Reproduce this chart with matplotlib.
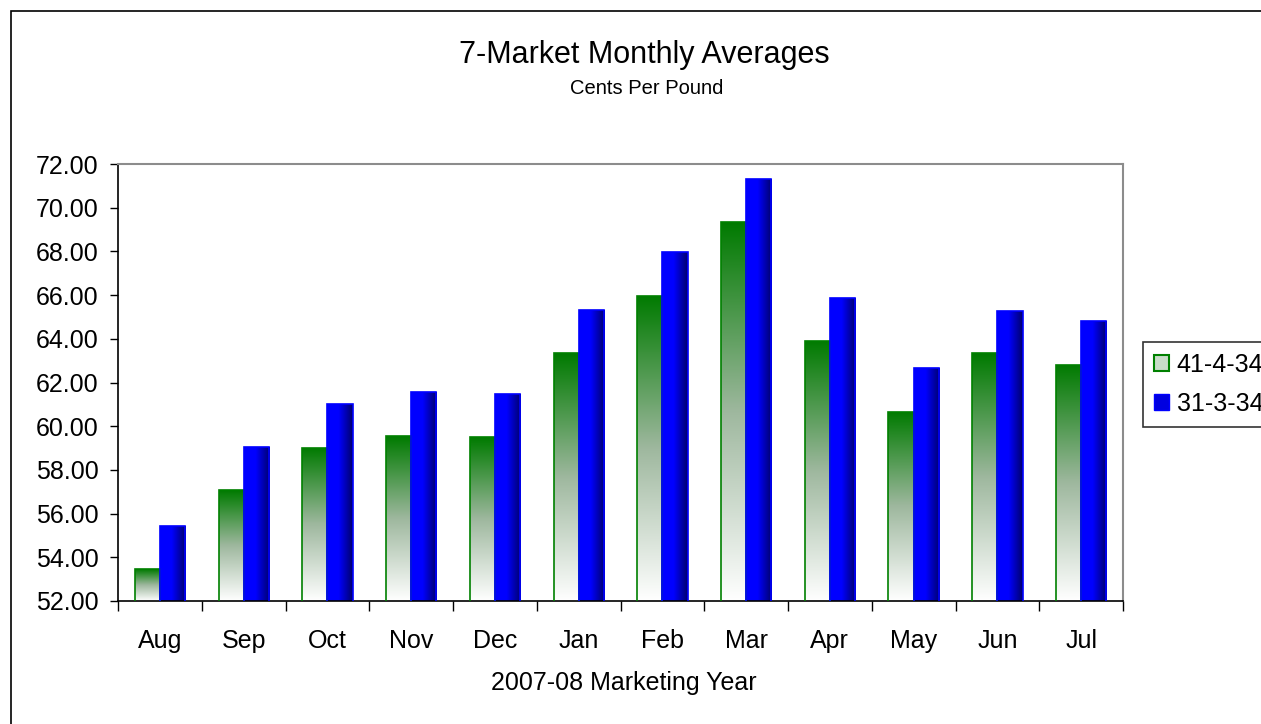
import matplotlib
matplotlib.use("Agg")
import matplotlib.pyplot as plt
import matplotlib.patches as mpatches
import numpy as np

plt.rcParams['font.family'] = ['Liberation Sans', 'DejaVu Sans']

# data
months = ['Aug', 'Sep', 'Oct', 'Nov', 'Dec', 'Jan', 'Feb', 'Mar', 'Apr', 'May', 'Jun', 'Jul']
grade_41 = [53.45, 57.08, 59.02, 59.55, 59.50, 63.35, 65.97, 69.33, 63.90, 60.65, 63.35, 62.82]
grade_31 = [55.43, 59.03, 61.02, 61.55, 61.47, 65.33, 67.95, 71.30, 65.87, 62.65, 65.25, 64.80]
series_names = ['41-4-34', '31-3-34']
y_lo, y_hi = 52, 72

W, H = 1261, 724
fig = plt.figure(figsize=(W / 100, H / 100), dpi=100)
ax = fig.add_axes([118 / W, 1 - 601 / H, (1123 - 118) / W, (601 - 164) / H])

x = np.arange(len(months))
bw = 0.3
green_bars = ax.bar(x - bw / 2, grade_41, bw, facecolor='none', edgecolor='#008000', linewidth=1.2, zorder=3)
blue_bars = ax.bar(x + bw / 2, grade_31, bw, facecolor='none', edgecolor='#0000ff', linewidth=1.2, zorder=3)

# gradient images: green fades to white downwards, blue darkens to the right
t = np.linspace(0, 1, 256)
stops_g = np.array([[1, 1, 1], [0.62, 0.72, 0.62], [0.0, 0.48, 0.0]])
g_img = np.zeros((256, 1, 3))
for c in range(3):
    g_img[:, 0, c] = np.interp(t, [0, 0.5, 1], stops_g[:, c])
b_img = np.zeros((1, 256, 3))
b_img[0, :, 2] = np.interp(t, [0, 0.45, 1], [1.0, 1.0, 0.42])


def fill_gradient(bar, img):
    x0 = bar.get_x()
    w = bar.get_width()
    top = bar.get_y() + bar.get_height()
    im = ax.imshow(img, extent=[x0, x0 + w, y_lo, top], aspect='auto', origin='lower',
                   interpolation='bilinear', zorder=2)
    im.set_clip_path(bar)


for b in green_bars:
    fill_gradient(b, g_img)
for b in blue_bars:
    fill_gradient(b, b_img)

ax.set_xlim(-0.5, len(months) - 0.5)
ax.set_ylim(y_lo, y_hi)
ax.set_yticks(np.arange(y_lo, y_hi + 1, 2))
ax.set_yticklabels(['%.2f' % v for v in np.arange(y_lo, y_hi + 1, 2)])
ax.set_xticks(np.arange(-0.5, len(months), 1))
ax.set_xticklabels([])
ax.set_xticks(x, minor=True)
ax.set_xticklabels(months, minor=True)
ax.tick_params(axis='y', direction='out', length=6, width=1, pad=8, labelsize=18)
ax.tick_params(axis='x', which='major', direction='out', length=7, width=1)
ax.tick_params(axis='x', which='minor', length=0, pad=20, labelsize=18)

for s in ['left', 'bottom']:
    ax.spines[s].set_color('black')
    ax.spines[s].set_linewidth(1.2)
for s in ['top', 'right']:
    ax.spines[s].set_color('#8c8c8c')
    ax.spines[s].set_linewidth(1.5)

fig.text(0.511, 1 - 55 / H, '7-Market Monthly Averages', ha='center', va='center', fontsize=22)
fig.text(0.513, 1 - 88 / H, 'Cents Per Pound', ha='center', va='center', fontsize=14.5)
fig.text(0.495, 1 - 683 / H, '2007-08 Marketing Year', ha='center', va='center', fontsize=18)

# outer chart border (runs past the right and bottom edges)
fig.patches.append(mpatches.Rectangle((11 / W, -0.2), 1.5, 1.2 - 11 / H, transform=fig.transFigure,
                                      fill=False, edgecolor='black', linewidth=1.2))

handles = [mpatches.Patch(facecolor='#c9dcc9', edgecolor='#008000', linewidth=1.5),
           mpatches.Patch(facecolor='#0000e0', edgecolor='#0000ff', linewidth=1)]
leg = fig.legend(handles, series_names, loc='upper left', bbox_to_anchor=(1143 / W, 1 - 342 / H),
                 fontsize=18, frameon=True, fancybox=False, borderaxespad=0, borderpad=0.45,
                 handlelength=0.6, handleheight=0.6, handletextpad=0.3, labelspacing=0.6)
leg.get_frame().set_edgecolor('black')
leg.get_frame().set_linewidth(1.2)

fig.savefig('out.png', dpi=100)
